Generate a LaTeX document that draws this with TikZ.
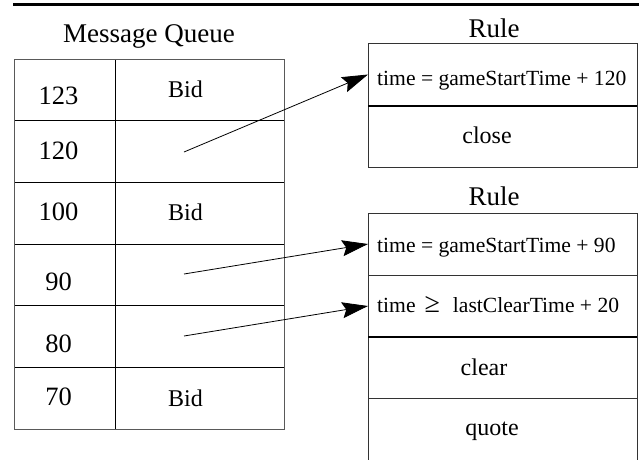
\documentclass[tikz,border=0pt]{standalone}
\usepackage{fontspec}
\setmainfont{Liberation Serif}
\usetikzlibrary{arrows.meta}
\begin{document}
\begin{tikzpicture}[x=1pt,y=-1pt,
  cell/.style={draw=black, line width=0.8pt, inner sep=0pt, outer sep=0pt, minimum height=61.67pt},
  kcell/.style={cell, minimum width=101pt},
  vcell/.style={cell, minimum width=169pt},
  rcell/.style={draw=black!80, line width=0.9pt, inner sep=0pt, outer sep=0pt, minimum width=269pt},
  big/.style={font=\fontsize{27}{30}\selectfont, anchor=base, inner sep=0pt},
  num/.style={font=\fontsize{26.5}{30}\selectfont, anchor=base, inner sep=0pt},
  bid/.style={font=\fontsize{24}{28}\selectfont, anchor=base, inner sep=0pt},
  cond/.style={font=\fontsize{21.6}{25}\selectfont, anchor=base west, inner sep=0pt},
  act/.style={font=\fontsize{24}{28}\selectfont, anchor=base, inner sep=0pt},
  thick sep/.style={line width=2.6pt},
  arr/.style={line width=0.8pt, -{Stealth[length=26pt,width=16pt,inset=4pt]}}
]
\useasboundingbox (0,0) rectangle (639,459);
% top rule line
\coordinate (tl) at (13,4);
\coordinate (tr) at (639,4);
\draw[line width=3pt] (tl) -- (tr);

% Message queue title
\node[big] (mqt) at (149,42) {Message Queue};

% table cells
\node[kcell] (k1) at (64.5,89.83) {};
\node[vcell] (v1) at (199.5,89.83) {};
\node[kcell] (k2) at (64.5,151.5) {};
\node[vcell] (v2) at (199.5,151.5) {};
\node[kcell] (k3) at (64.5,213.17) {};
\node[vcell] (v3) at (199.5,213.17) {};
\node[kcell] (k4) at (64.5,274.83) {};
\node[vcell] (v4) at (199.5,274.83) {};
\node[kcell] (k5) at (64.5,336.5) {};
\node[vcell] (v5) at (199.5,336.5) {};
\node[kcell] (k6) at (64.5,398.17) {};
\node[vcell] (v6) at (199.5,398.17) {};
\draw[black!65, line width=1pt] (k1.north west) rectangle (v6.south east);

% table texts
\node[num] (n123) at (58.5,104) {123};
\node[num] (n120) at (58.5,159) {120};
\node[num] (n100) at (58.5,220) {100};
\node[num] (n90) at (58.5,290) {90};
\node[num] (n80) at (58.5,352) {80};
\node[num] (n70) at (58.5,405) {70};
\node[bid] (b1) at (185.5,97) {Bid};
\node[bid] (b3) at (185.5,220) {Bid};
\node[bid] (b6) at (185.5,406) {Bid};

% Rule 1
\node[big] (rt1) at (494,37) {Rule};
\node[rcell, minimum height=63pt] (r1a) at (502.5,74.5) {};
\node[rcell, minimum height=61pt] (r1b) at (502.5,136.5) {};
\draw[thick sep] (r1a.south west) -- (r1a.south east);
\node[cond] (c1) at (377,85.5) {time = gameStartTime + 120};
\node[act] (close) at (487,143) {close};

% Rule 2
\node[big] (rt2) at (494,205) {Rule};
\node[rcell, minimum height=62pt] (r2a) at (502.5,244) {};
\node[rcell, minimum height=62pt] (r2b) at (502.5,306) {};
\node[rcell, minimum height=61pt] (r2c) at (502.5,367.5) {};
\node[rcell, minimum height=72pt] (r2d) at (502.5,434) {};
\draw[thick sep] (r2b.south west) -- (r2b.south east);
\node[cond] (c2) at (377,252.5) {time = gameStartTime + 90};
\node[cond] (c3) at (377,312) {time\hspace{9pt}{\fontsize{28}{30}\selectfont ≥}\hspace{13pt}lastClearTime + 20};
\node[act] (clear) at (484,375) {clear};
\node[act] (quote) at (492,435) {quote};

% connectors
\coordinate (a1) at (184,152);
\coordinate (a2) at (184,274);
\coordinate (a3) at (184,336);
\draw[arr] (a1) -- (r1a.west);
\draw[arr] (a2) -- (r2a.west);
\draw[arr] (a3) -- (r2b.west);
\end{tikzpicture}
\end{document}
